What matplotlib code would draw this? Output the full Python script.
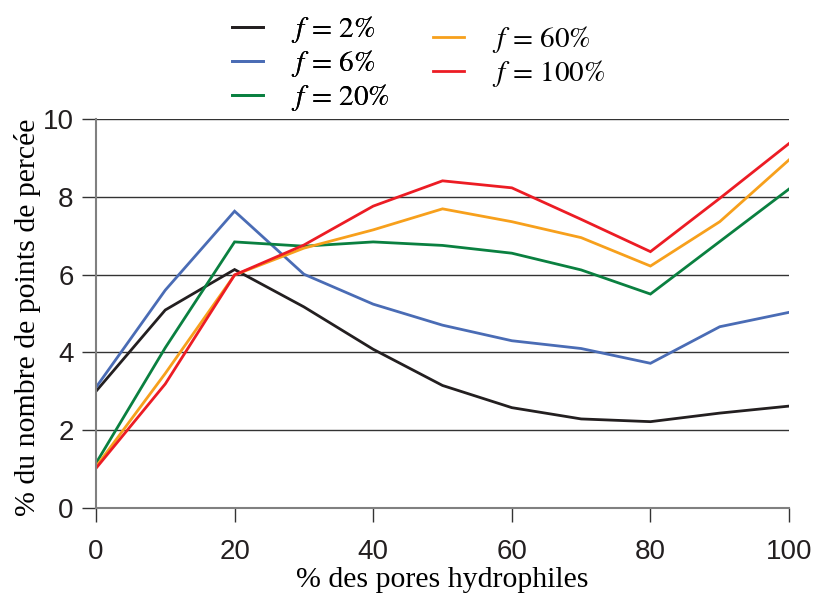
import matplotlib
matplotlib.use("Agg")
import matplotlib.pyplot as plt

# ---- données ----------------------------------------------------------------
pores = [0, 10, 20, 30, 40, 50, 60, 70, 80, 90, 100]

f2 = [3.0, 5.09, 6.13, 5.17, 4.08, 3.15, 2.58, 2.29, 2.22, 2.44, 2.62]
f6 = [3.1, 5.6, 7.63, 6.01, 5.24, 4.7, 4.3, 4.1, 3.72, 4.66, 5.03]
f20 = [1.15, 4.12, 6.84, 6.73, 6.84, 6.75, 6.55, 6.12, 5.5, 6.85, 8.2]
f60 = [1.06, 3.46, 5.99, 6.68, 7.15, 7.69, 7.36, 6.95, 6.22, 7.36, 8.95]
f100 = [1.02, 3.19, 5.99, 6.76, 7.76, 8.41, 8.23, 7.42, 6.59, 7.96, 9.37]

labels = [r"$f\,=\,2\%$", r"$f\,=\,6\%$", r"$f\,=\,20\%$",
          r"$f\,=\,60\%$", r"$f\,=\,100\%$"]
colors = ["#231f20", "#4a6cb5", "#0a8040", "#f7a01c", "#ec1c24"]
xticks = [0, 20, 40, 60, 80, 100]
yticks = [0, 2, 4, 6, 8, 10]
# ---------------------------------------------------------------------------

plt.rcParams["mathtext.fontset"] = "stix"

fig = plt.figure(figsize=(8.16, 6.03), dpi=100)
ax = fig.add_axes([0.1176, 0.1575, 0.967 - 0.1176, 0.8027 - 0.1575])

for ys, c, lab in zip([f2, f6, f20, f60, f100], colors, labels):
    ax.plot(pores, ys, color=c, linewidth=2.0, label=lab, solid_joinstyle="miter")

ax.set_xlim(0, 100)
ax.set_ylim(0, 10)
ax.set_xticks(xticks)
ax.set_yticks(yticks)
ax.grid(True, axis="y", color="#333333", linewidth=1.0)
ax.set_axisbelow(True)

for s in ["top", "right"]:
    ax.spines[s].set_visible(False)
ax.spines["left"].set_color("#808080")
ax.spines["left"].set_linewidth(1.5)
ax.spines["bottom"].set_color("#808080")
ax.spines["bottom"].set_linewidth(1.5)

ax.tick_params(axis="x", direction="out", length=10, width=1.0, color="#333333",
               labelsize=20, pad=12)
ax.tick_params(axis="y", direction="out", length=10, width=1.0, color="#333333",
               labelsize=20, pad=6)
for t in ax.get_xticklabels() + ax.get_yticklabels():
    t.set_fontfamily("Liberation Sans")
    t.set_color("#231f20")

ax.set_xlabel("% des pores hydrophiles", fontfamily="Liberation Serif",
              fontsize=21.5, labelpad=2)
ax.set_ylabel("% du nombre de points de percée", fontfamily="Liberation Serif",
              fontsize=21.5, labelpad=0)
ax.yaxis.set_label_coords(-0.08, 0.49)

# légende en deux colonnes décalées
handles = ax.get_lines()
leg1 = fig.legend(handles[:3], labels[:3], loc="upper left",
                  bbox_to_anchor=(0.2525, 1.02), frameon=False, fontsize=21,
                  handlelength=1.05, handletextpad=0.95, labelspacing=0.1)
leg2 = fig.legend(handles[3:], labels[3:], loc="upper left",
                  bbox_to_anchor=(0.499, 1.003), frameon=False, fontsize=21,
                  handlelength=1.05, handletextpad=0.95, labelspacing=0.1)
fig.add_artist(leg1)

fig.savefig("out.png", dpi=100)
